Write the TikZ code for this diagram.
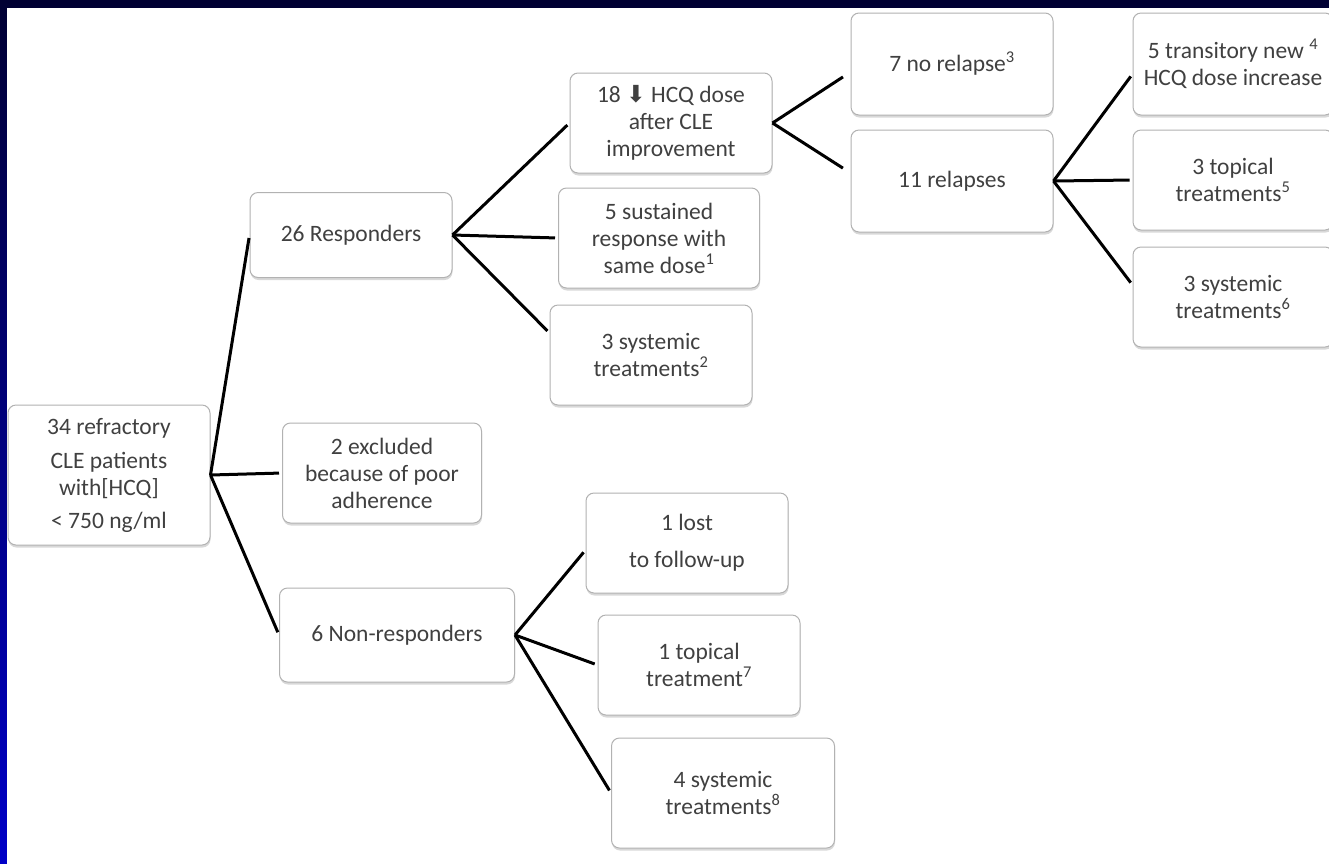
\documentclass[tikz,border=0pt]{standalone}
\usepackage{fontspec}
\setmainfont{Carlito}
\newfontfamily\arrowfont{DejaVu Sans}
\usetikzlibrary{shadows}
\definecolor{slidetop}{RGB}{0,0,50}
\definecolor{slidebottom}{RGB}{0,0,200}
\definecolor{boxtext}{RGB}{64,64,64}
\definecolor{boxline}{RGB}{178,178,178}
\begin{document}
\begin{tikzpicture}
		[x=1pt,y=-1pt,
		box/.style={draw=boxline,line width=1pt,rounded corners=8pt,fill=white,
			align=center,text=boxtext,font=\fontsize{23.5}{27}\selectfont,
			minimum width=202pt,minimum height=100pt,inner sep=2pt,
			drop shadow={shadow xshift=0.5pt,shadow yshift=-2.5pt,opacity=0.3}},
		link/.style={line width=3pt,black,shorten >=3pt}]
		\useasboundingbox (0,0) rectangle (1329,863);
		\shade[top color=slidetop,bottom color=slidebottom] (-5,-5) rectangle (1340,870);
		\fill[white] (7,8) rectangle (1340,870);
		\clip (7,8) rectangle (1340,870);
		\node[box,minimum height=140pt] (root) at (109,475)
			{34 refractory\\[7pt]CLE patients\\with[HCQ]\\[6pt]< 750 ng/ml};
		\node[box,minimum height=85pt] (resp) at (351,235) {26 Responders};
		\node[box,minimum width=199pt] (excl) at (382,473)
			{2 excluded\\because of poor\\adherence};
		\node[box,minimum width=235pt,minimum height=94pt] (nonr) at (397,635)
			{6 Non-responders};
		\node[box] (dose) at (671,123)
			{18 {\arrowfont ⬇} HCQ dose\\after CLE\\improvement};
		\node[box,minimum width=201pt] (same) at (659,238)
			{5 sustained\\response with\\same dose\textsuperscript{1}};
		\node[box] (sysresp) at (651,355) {3 systemic\\treatments\textsuperscript{2}};
		\node[box,minimum height=102pt] (norel) at (952,64) {7 no relapse\textsuperscript{3}};
		\node[box,minimum height=102pt] (relap) at (952,181) {11 relapses};
		\node[box,minimum width=200pt,minimum height=102pt] (incr) at (1233,64)
			{5 transitory new \textsuperscript{4}\\HCQ dose increase};
		\node[box,minimum width=200pt] (toprel) at (1233,180)
			{3 topical\\treatments\textsuperscript{5}};
		\node[box,minimum width=200pt] (sysrel) at (1233,297)
			{3 systemic\\treatments\textsuperscript{6}};
		\node[box] (lost) at (687,543) {1 lost\\[10pt]to follow-up};
		\node[box] (topnon) at (699,665) {1 topical\\treatment\textsuperscript{7}};
		\node[box,minimum width=223pt,minimum height=110pt] (sysnon) at (723,793)
			{4 systemic\\treatments\textsuperscript{8}};
		\draw[link] (root.east) -- (resp.west);
		\draw[link] (root.east) -- (excl.west);
		\draw[link] (root.east) -- (nonr.west);
		\draw[link] (resp.east) -- (dose.west);
		\draw[link] (resp.east) -- (same.west);
		\draw[link] (resp.east) -- ([yshift=22pt]sysresp.west);
		\draw[link,shorten >=9pt] (dose.east) -- ([yshift=-8pt]norel.west);
		\draw[link,shorten >=9pt] (dose.east) -- ([yshift=8pt]relap.west);
		\draw[link] (relap.east) -- ([yshift=-10pt]incr.west);
		\draw[link] (relap.east) -- (toprel.west);
		\draw[link] (relap.east) -- ([yshift=12pt]sysrel.west);
		\draw[link] (nonr.east) -- ([yshift=-7pt]lost.west);
		\draw[link] (nonr.east) -- (topnon.west);
		\draw[link] (nonr.east) -- (sysnon.west);
	\end{tikzpicture}
\end{document}
